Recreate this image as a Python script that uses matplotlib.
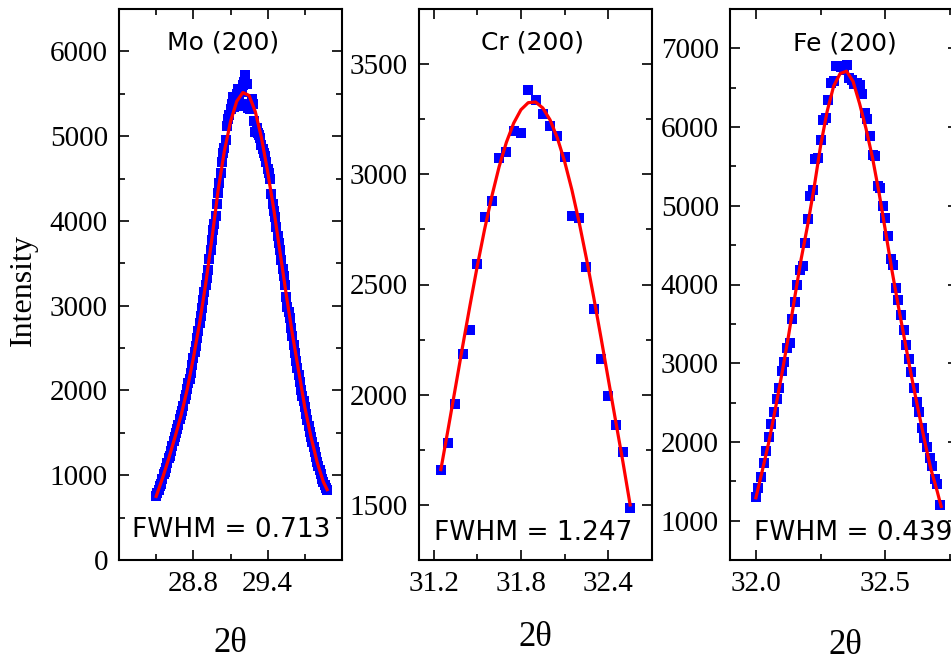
import matplotlib
matplotlib.use('Agg')
import matplotlib.pyplot as plt
from matplotlib.ticker import MultipleLocator

# ---- Mo (200) ----
mo_x = [28.50, 28.51, 28.52, 28.53, 28.54, 28.55, 28.56, 28.57, 28.58, 28.59,
        28.60, 28.61, 28.62, 28.63, 28.64, 28.65, 28.66, 28.67, 28.68, 28.69,
        28.70, 28.71, 28.72, 28.73, 28.74, 28.75, 28.76, 28.77, 28.78, 28.79,
        28.80, 28.81, 28.82, 28.83, 28.84, 28.85, 28.86, 28.87, 28.88, 28.89,
        28.90, 28.91, 28.92, 28.93, 28.94, 28.95, 28.96, 28.97, 28.98, 28.99,
        29.00, 29.01, 29.02, 29.03, 29.04, 29.05, 29.06, 29.07, 29.08, 29.09,
        29.10, 29.11, 29.12, 29.13, 29.14, 29.15, 29.16, 29.17, 29.18, 29.19,
        29.20, 29.21, 29.22, 29.23, 29.24, 29.25, 29.26, 29.27, 29.28, 29.29,
        29.30, 29.31, 29.32, 29.33, 29.34, 29.35, 29.36, 29.37, 29.38, 29.39,
        29.40, 29.41, 29.42, 29.43, 29.44, 29.45, 29.46, 29.47, 29.48, 29.49,
        29.50, 29.51, 29.52, 29.53, 29.54, 29.55, 29.56, 29.57, 29.58, 29.59,
        29.60, 29.61, 29.62, 29.63, 29.64, 29.65, 29.66, 29.67, 29.68, 29.69,
        29.70, 29.71, 29.72, 29.73, 29.74, 29.75, 29.76, 29.77, 29.78, 29.79,
        29.80, 29.81, 29.82, 29.83, 29.84, 29.85, 29.86, 29.87, 29.88]
mo_y = [760, 790, 820, 870, 900, 960, 1010, 1040, 1090, 1150,
        1200, 1230, 1280, 1350, 1400, 1450, 1500, 1540, 1590, 1660,
        1710, 1760, 1820, 1900, 1950, 2020, 2090, 2140, 2210, 2300,
        2380, 2450, 2530, 2620, 2700, 2790, 2880, 2970, 3070, 3160,
        3250, 3330, 3420, 3550, 3660, 3780, 3890, 3960, 4060, 4200,
        4330, 4450, 4570, 4700, 4800, 4860, 4960, 5120, 5200, 5250,
        5320, 5380, 5460, 5340, 5420, 5500, 5560, 5450, 5360, 5520,
        5600, 5640, 5720, 5610, 5330, 5380, 5320, 5440, 5380, 5180,
        5050, 5100, 5040, 5010, 4980, 4900, 4850, 4800, 4770, 4700,
        4610, 4560, 4490, 4320, 4200, 4120, 4050, 3930, 3820, 3740,
        3660, 3540, 3430, 3350, 3250, 3100, 2990, 2930, 2860, 2740,
        2640, 2540, 2440, 2350, 2270, 2180, 2100, 2010, 1940, 1870,
        1810, 1720, 1650, 1580, 1510, 1450, 1390, 1330, 1270, 1210,
        1160, 1110, 1060, 1010, 960, 920, 880, 850, 830]
mo_fit_x = [28.50, 28.55, 28.60, 28.65, 28.70, 28.75, 28.80, 28.85, 28.90, 28.95,
            29.00, 29.05, 29.10, 29.15, 29.20, 29.25, 29.30, 29.35, 29.40, 29.45,
            29.50, 29.55, 29.60, 29.65, 29.70, 29.75, 29.80, 29.85, 29.88]
mo_fit_y = [750, 960, 1190, 1440, 1700, 2010, 2380, 2790, 3260, 3790,
            4360, 4820, 5170, 5410, 5515, 5480, 5290, 4980, 4580, 4130,
            3630, 3130, 2660, 2230, 1800, 1450, 1150, 920, 830]

# ---- Cr (200) ----
cr_x = [31.25, 31.30, 31.35, 31.40, 31.45, 31.50, 31.55, 31.60, 31.65, 31.70,
        31.75, 31.80, 31.85, 31.90, 31.95, 32.00, 32.05, 32.10, 32.15, 32.20,
        32.25, 32.30, 32.35, 32.40, 32.45, 32.50, 32.55]
cr_y = [1657, 1782, 1959, 2185, 2295, 2591, 2804, 2877, 3073, 3100,
        3198, 3186, 3382, 3337, 3274, 3221, 3172, 3077, 2809, 2803,
        2580, 2391, 2161, 1992, 1863, 1740, 1485]
cr_fit_y = [1660, 1844, 2032, 2221, 2405, 2583, 2749, 2900, 3034, 3145,
            3232, 3293, 3325, 3328, 3301, 3247, 3165, 3058, 2929, 2781,
            2617, 2441, 2258, 2070, 1882, 1696, 1500]

# ---- Fe (200) ----
fe_x = [32.00, 32.01, 32.02, 32.03, 32.04, 32.05, 32.06, 32.07, 32.08, 32.09,
        32.10, 32.11, 32.12, 32.13, 32.14, 32.15, 32.16, 32.17, 32.18, 32.19,
        32.20, 32.21, 32.22, 32.23, 32.24, 32.25, 32.26, 32.27, 32.28, 32.29,
        32.30, 32.31, 32.32, 32.33, 32.34, 32.35, 32.36, 32.37, 32.38, 32.39,
        32.40, 32.41, 32.42, 32.43, 32.44, 32.45, 32.46, 32.47, 32.48, 32.49,
        32.50, 32.51, 32.52, 32.53, 32.54, 32.55, 32.56, 32.57, 32.58, 32.59,
        32.60, 32.61, 32.62, 32.63, 32.64, 32.65, 32.66, 32.67, 32.68, 32.69,
        32.70, 32.71]
fe_y = [1300, 1420, 1560, 1730, 1880, 2060, 2230, 2380, 2540, 2690,
        2900, 3020, 3190, 3260, 3560, 3780, 3990, 4180, 4240, 4530,
        4830, 5120, 5200, 5590, 5610, 5840, 6090, 6120, 6350, 6560,
        6580, 6770, 6780, 6760, 6730, 6790, 6620, 6600, 6550, 6560,
        6540, 6420, 6180, 6100, 5890, 5640, 5630, 5250, 5230, 5000,
        4850, 4620, 4330, 4250, 3950, 3800, 3610, 3420, 3230, 3050,
        2890, 2680, 2510, 2380, 2180, 2050, 1930, 1790, 1700, 1530,
        1460, 1200]
fe_fit_x = [32.000, 32.025, 32.050, 32.075, 32.100, 32.125, 32.150, 32.175, 32.200, 32.225,
            32.250, 32.275, 32.300, 32.325, 32.350, 32.375, 32.400, 32.425, 32.450, 32.475,
            32.500, 32.525, 32.550, 32.575, 32.600, 32.625, 32.650, 32.675, 32.700, 32.715]
fe_fit_y = [1290, 1640, 2000, 2420, 2860, 3330, 3840, 4330, 4760, 5240,
            5770, 6200, 6520, 6680, 6710, 6580, 6300, 5980, 5610, 5170,
            4680, 4180, 3720, 3280, 2840, 2430, 2030, 1660, 1370, 1180]

titles = ["Mo (200)", "Cr (200)", "Fe (200)"]
fwhm_labels = ["FWHM = 0.713", "FWHM = 1.247", "FWHM = 0.439"]

W, H = 951, 662

plt.rcParams['font.family'] = ['Liberation Serif', 'DejaVu Serif']
plt.rcParams['font.size'] = 21


def draw_panel(ax, x, y, fx, fy, title, fwhm, xlim, ylim, xmaj, xmin, ymaj, ymin,
               tpos, fpos):
    ax.plot(x, y, 's', color='#0000ff', markersize=7.6, markeredgewidth=0)
    ax.plot(fx, fy, '-', color='#ff0000', linewidth=2.3)
    ax.set_xlim(*xlim)
    ax.set_ylim(*ylim)
    ax.set_xticks(xmaj)
    ax.set_xticks(xmin, minor=True)
    ax.yaxis.set_major_locator(MultipleLocator(ymaj))
    ax.yaxis.set_minor_locator(MultipleLocator(ymin))
    ax.tick_params(which='both', direction='in', top=True, right=True,
                   width=1.2, pad=8, labelsize=21)
    ax.tick_params(which='major', length=7.5)
    ax.tick_params(which='minor', length=4.3)
    for s in ax.spines.values():
        s.set_linewidth(1.5)
    ax.text(tpos[0], tpos[1], title, transform=ax.transAxes, ha='center',
            va='center', fontsize=18, family='DejaVu Sans')
    ax.text(fpos[0], fpos[1], fwhm, transform=ax.transAxes, ha='center',
            va='center', fontsize=19, family='DejaVu Sans')


fig = plt.figure(figsize=(W / 100, H / 100), dpi=100)

# axes boxes in pixels: left, right (top 9, bottom 560)
boxes = [(119, 342), (419, 652), (730, 958)]
top, bottom = 9, 560
axs = []
for l, r in boxes:
    axs.append(fig.add_axes([l / W, 1 - bottom / H, (r - l) / W, (bottom - top) / H]))

draw_panel(axs[0], mo_x, mo_y, mo_fit_x, mo_fit_y, titles[0], fwhm_labels[0],
           (28.2, 30.0), (0, 6500), [28.8, 29.4], [28.5, 29.1, 29.7], 1000, 500,
           (0.466, 0.94), (0.502, 0.054))
draw_panel(axs[1], cr_x, cr_y, cr_x, cr_fit_y, titles[1], fwhm_labels[1],
           (31.1, 32.7), (1250, 3750), [31.2, 31.8, 32.4], [31.5, 32.1], 500, 250,
           (0.485, 0.94), (0.491, 0.049))
draw_panel(axs[2], fe_x, fe_y, fe_fit_x, fe_fit_y, titles[2], fwhm_labels[2],
           (31.9, 32.78), (500, 7500), [32.0, 32.5], [32.25, 32.75], 1000, 500,
           (0.504, 0.938), (0.541, 0.049))

fig.text(23 / W, 1 - 290 / H, 'Intensity', rotation=90, ha='center', va='center',
         fontsize=23)
for xc, yc in [(230, 644), (535, 638), (845, 645)]:
    fig.text(xc / W, 1 - yc / H, '2θ', ha='center', va='center', fontsize=25)

fig.savefig('out.png', dpi=100)
